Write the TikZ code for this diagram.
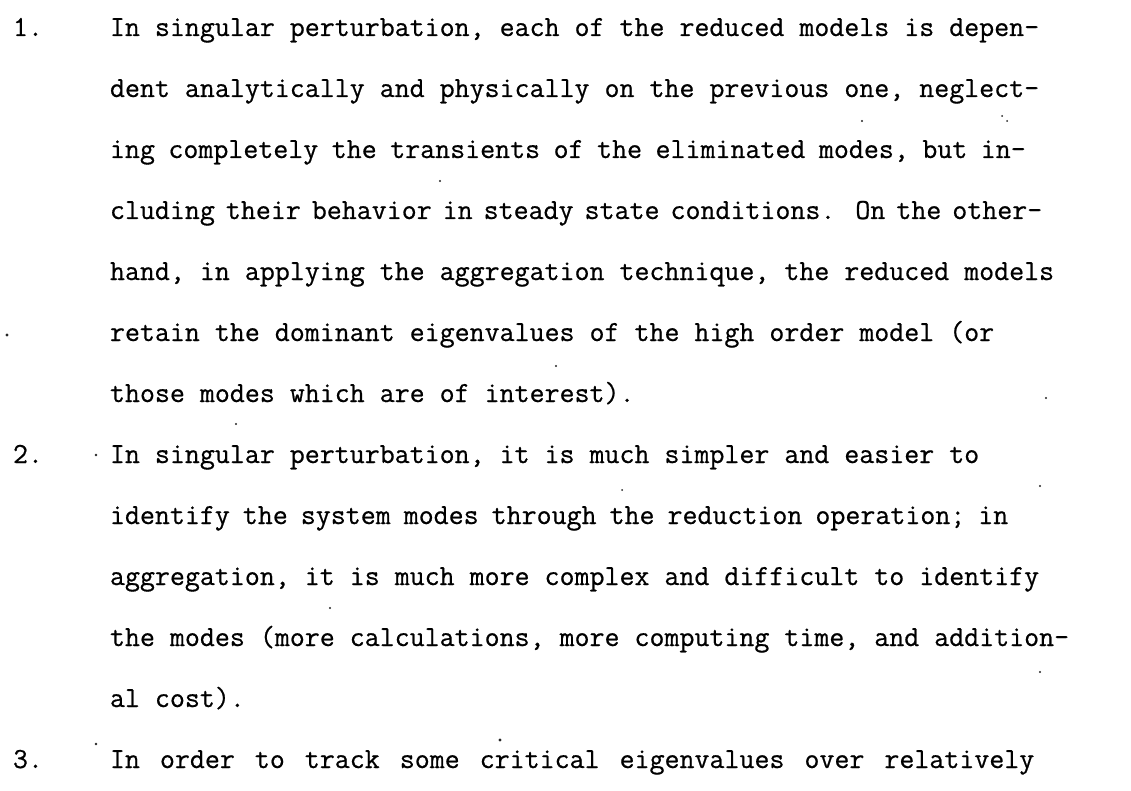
\documentclass[tikz,border=0pt]{standalone}
\usepackage{fontspec}
\newfontfamily\typer[FakeBold=0.6]{Latin Modern Mono}
\tikzset{
  typed/.style={anchor=base west, inner sep=0pt, outer sep=0pt,
    font=\typer\fontsize{29.1}{30}\selectfont},
  speck/.style={fill=black!85, draw=none}
}
\begin{document}
\begin{tikzpicture}[x=1pt,y=1pt]
  \useasboundingbox[fill=white] (0,0) rectangle (1131,-791);
  \frenchspacing
  % item numbers
  \node[typed] (n1) at (13,-36)  {1.};
  \node[typed] (n2) at (13,-463) {2.};
  \node[typed] (n3) at (13,-768) {3.};
  % item 1
  \node[typed] (a1) at (110,-36)  {In singular perturbation, each of the reduced models is depen-};
  \node[typed] (a2) at (110,-97)  {dent analytically and physically on the previous one, neglect-};
  \node[typed] (a3) at (110,-158) {\spaceskip=13.5pt\relax ing completely the transients of the eliminated modes, but in-};
  \node[typed] (a4) at (110,-219) {\spaceskip=11pt\relax cluding their behavior in steady state conditions.\hspace{20pt}On the other-};
  \node[typed] (a5) at (110,-280) {hand, in applying the aggregation technique, the reduced models};
  \node[typed] (a6) at (110,-341) {retain the dominant eigenvalues of the high order model (or};
  \node[typed] (a7) at (110,-402) {those modes which are of interest).};
  % item 2
  \node[typed] (b1) at (110,-463) {In singular perturbation, it is much simpler and easier to};
  \node[typed] (b2) at (110,-524) {\spaceskip=13pt\relax identify the system modes through the reduction operation; in};
  \node[typed] (b3) at (110,-585) {aggregation, it is much more complex and difficult to identify};
  \node[typed] (b4) at (110,-646) {the modes (more calculations, more computing time, and addition-};
  \node[typed] (b5) at (110,-707) {al cost).};
  % item 3
  \node[typed] (c1) at (110,-768) {\spaceskip=20pt\relax In order to track some critical eigenvalues over relatively};
  % stray specks on the page
  \fill[speck] (7,-335) circle (1.6);
  \fill[speck] (96,-455) circle (1.4);
  \fill[speck] (96,-744) circle (1.4);
  \fill[speck] (862,-121) circle (1.2);
  \fill[speck] (1002,-116) circle (1.0);
  \fill[speck] (1007,-121) circle (1.0);
  \fill[speck] (440,-181) circle (1.1);
  \fill[speck] (556,-366) circle (1.2);
  \fill[speck] (1046,-398) circle (1.2);
  \fill[speck] (236,-424) circle (1.2);
  \fill[speck] (1040,-486) circle (1.1);
  \fill[speck] (622,-490) circle (1.0);
  \fill[speck] (330,-608) circle (1.1);
  \fill[speck] (1040,-672) circle (1.1);
  \fill[speck] (500,-740) circle (1.6);
\end{tikzpicture}
\end{document}
